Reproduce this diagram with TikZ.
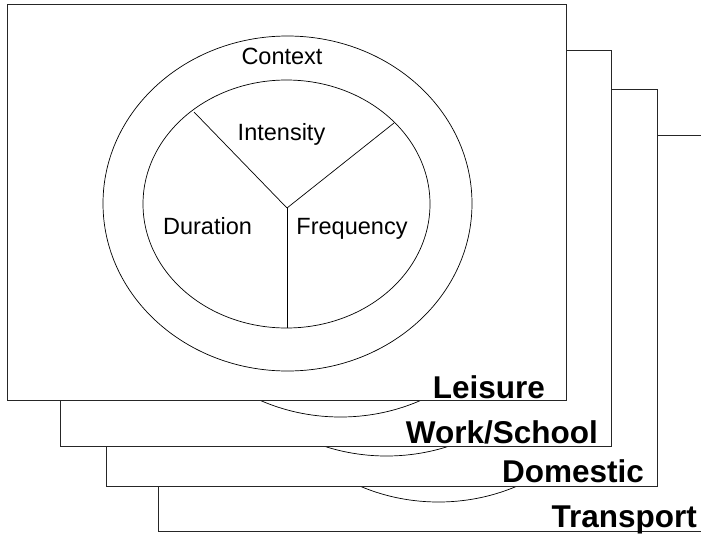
\documentclass[tikz,border=0pt]{standalone}
\usepackage{fontspec}
\setmainfont{Liberation Sans}
\begin{document}
\begin{tikzpicture}[x=1pt,y=-1pt,
  card/.style={draw=black!85,line width=0.9pt,fill=white},
  ring/.style={draw=black,line width=0.7pt},
  spoke/.style={draw=black,line width=0.7pt},
  lbl/.style={inner sep=0pt,anchor=base,font=\fontsize{23.5}{26}\selectfont},
  tag/.style={inner sep=0pt,anchor=base east,font=\fontsize{31.5}{34}\selectfont\bfseries}]
\useasboundingbox (0,0) rectangle (701,536);
% card 4 (Transport)
\path[card] (158,135) rectangle (730,531);
\draw[ring] (438.5,334.5) ellipse [x radius=184.5,y radius=167.5];
\node[tag] (transport) at (697,527) {Transport};
% card 3 (Domestic)
\path[card] (106,89) rectangle (657,486);
\draw[ring] (386.5,288.5) ellipse [x radius=184.5,y radius=167.5];
\node[tag] (domestic) at (644,482) {Domestic};
% card 2 (Work/School)
\path[card] (60,50) rectangle (611,446);
\draw[ring] (340.5,249.5) ellipse [x radius=184.5,y radius=167.5];
\node[tag] (work) at (598,443) {Work/School};
% card 1 (Leisure)
\path[card] (7,4) rectangle (566,400);
\draw[ring] (287.5,203.5) ellipse [x radius=184.5,y radius=167.5];
\draw[ring] (286.5,204) ellipse [x radius=143.5,y radius=124];
\coordinate (hub) at (287,208);
\coordinate (ul) at (194,112);
\coordinate (ur) at (394,123);
\coordinate (bt) at (287,328);
\draw[spoke] (hub) -- (ul);
\draw[spoke] (hub) -- (ur);
\draw[spoke] (hub) -- (bt);
\node[lbl] (context) at (282,64) {Context};
\node[lbl] (intensity) at (281.5,140) {Intensity};
\node[lbl] (duration) at (207.5,234) {Duration};
\node[lbl] (frequency) at (352,234) {Frequency};
\node[tag] (leisure) at (545,398) {Leisure};
\end{tikzpicture}
\end{document}
